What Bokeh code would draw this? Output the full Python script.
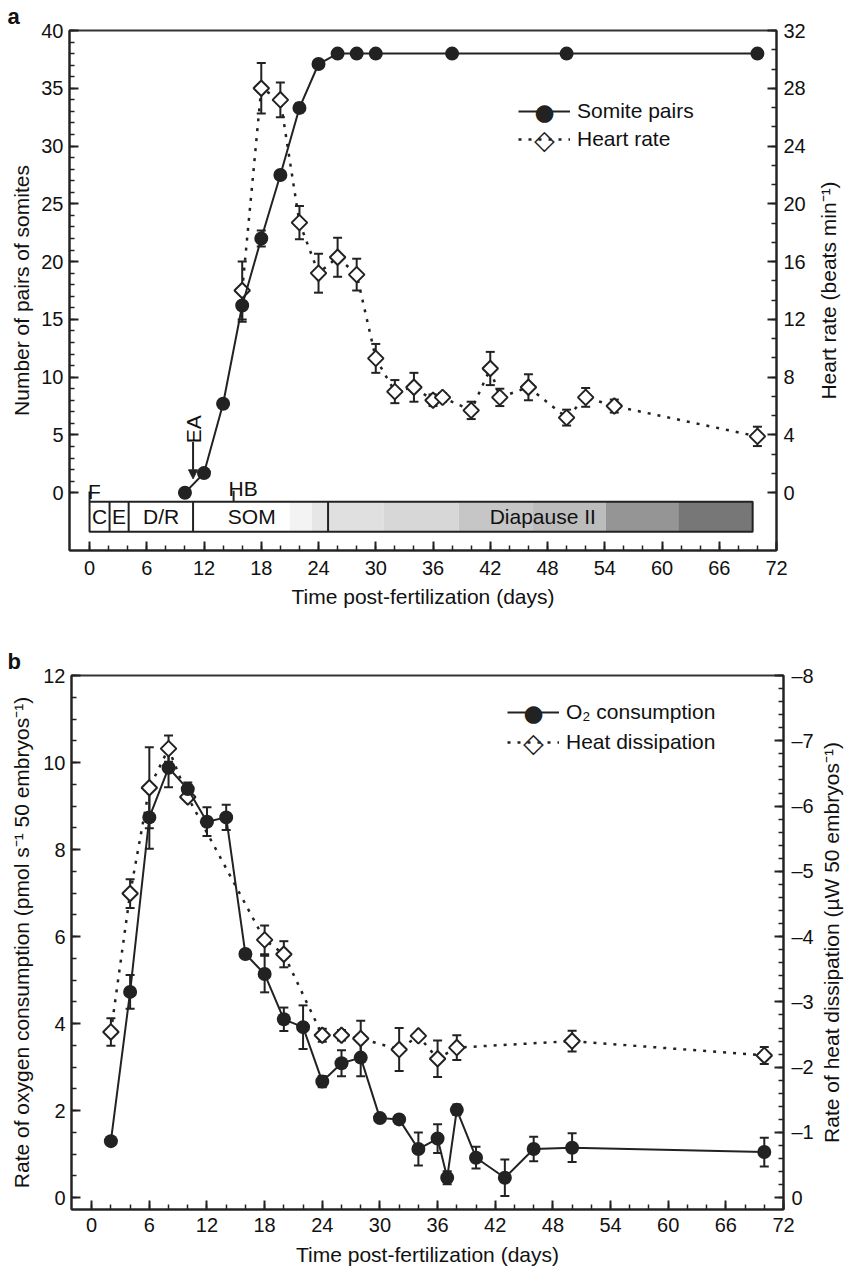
import numpy as np
from bokeh.plotting import figure
from bokeh.models import (Range1d, LinearAxis, FixedTicker, ColumnDataSource, Whisker, TeeHead,
                          Legend, LegendItem, Label, Arrow, NormalHead, CustomJSTickFormatter)
from bokeh.layouts import column, row
from bokeh.embed import file_html
from bokeh.resources import INLINE
from bokeh.core.properties import value

FONT = "Liberation Sans"
INK = "#222222"

# ---------------- Panel a data ----------------
somite_days = [10, 12, 14, 16, 18, 20, 22, 24, 26, 28, 30, 38, 50, 70]
somite_pairs = [0, 1.7, 7.7, 16.2, 22.0, 27.5, 33.3, 37.1, 38, 38, 38, 38, 38, 38]
somite_err = [0, 0, 0, 1.4, 0.7, 0, 0.4, 0, 0, 0, 0, 0, 0, 0]

hr_days = [16, 18, 20, 22, 24, 26, 28, 30, 32, 34, 36, 37, 40, 42, 43, 46, 50, 52, 55, 70]
hr_bpm = [14.0, 28.0, 27.2, 18.7, 15.2, 16.3, 15.1, 9.3, 7.0, 7.3, 6.4, 6.6, 5.7, 8.6, 6.6,
          7.3, 5.2, 6.6, 6.0, 3.9]
hr_err = [2.0, 1.75, 1.2, 1.15, 1.35, 1.35, 1.1, 1.0, 0.8, 1.0, 0.4, 0.3, 0.6, 1.15, 0.6,
          0.9, 0.55, 0.65, 0.45, 0.67]

# developmental stage bar
stage_dividers = [0, 2.1, 4.1, 10.85, 25.0, 69.5]
stage_names = ["C", "E", "D/R", "SOM", "Diapause II"]
stage_label_x = [1.05, 3.1, 7.5, 17.0, 47.5]
shade_start = [21.0, 23.3, 25.0, 30.8, 38.7, 46.4, 54.1, 61.7]
shade_end = [23.3, 25.0, 30.8, 38.7, 46.4, 54.1, 61.7, 69.5]
shade_color = ["#f3f3f3", "#e6e6e6", "#e0e0e0", "#d7d7d7", "#c6c6c6", "#bcbcbc", "#959595", "#777777"]
event_names = ["F", "HB"]
event_days = [0.0, 15.1]
ea_day = 10.85

# ---------------- Panel b data ----------------
o2_days = [2, 4, 6, 8, 10, 12, 14, 16, 18, 20, 22, 24, 26, 28, 30, 32, 34, 36, 37, 38, 40, 43, 46, 50, 70]
o2_rate = [1.3, 4.73, 8.74, 9.88, 9.39, 8.64, 8.74, 5.6, 5.14, 4.1, 3.92, 2.67, 3.09, 3.22,
           1.83, 1.8, 1.12, 1.36, 0.46, 2.02, 0.92, 0.46, 1.12, 1.15, 1.05]
o2_err = [0, 0.39, 0.72, 0.45, 0.15, 0.33, 0.29, 0, 0.42, 0.27, 0.5, 0.13, 0.3, 0.43,
          0, 0.1, 0.38, 0.33, 0.15, 0.12, 0.25, 0.42, 0.28, 0.33, 0.33]

heat_days = [2, 4, 6, 8, 10, 18, 20, 24, 26, 28, 32, 34, 36, 38, 50, 70]
heat_rate = [-2.54, -4.66, -6.28, -6.88, -6.14, -3.95, -3.73, -2.49, -2.49, -2.44, -2.27,
             -2.48, -2.13, -2.3, -2.4, -2.18]
heat_err = [0.21, 0.22, 0.62, 0.2, 0, 0.22, 0.2, 0.1, 0.08, 0.27, 0.33, 0, 0.28, 0.19, 0.16, 0.13]

XTICKS = list(range(0, 73, 6))
XMINOR = list(range(0, 73, 2))


def style_axis(ax, ticks, minor, title=None):
    ax.ticker = FixedTicker(ticks=ticks, minor_ticks=minor)
    ax.major_tick_in = 9
    ax.major_tick_out = 0
    ax.minor_tick_in = 5
    ax.minor_tick_out = 0
    ax.axis_line_width = 2
    ax.axis_line_color = INK
    ax.major_tick_line_width = 2
    ax.major_tick_line_color = INK
    ax.minor_tick_line_width = 1.5
    ax.minor_tick_line_color = INK
    ax.major_label_text_font = FONT
    ax.major_label_text_font_size = "20px"
    ax.major_label_text_color = "#111111"
    ax.major_label_standoff = 6
    ax.axis_label_text_font = FONT
    ax.axis_label_text_font_size = "21px"
    ax.axis_label_text_font_style = "normal"
    ax.axis_label_text_color = "#111111"
    ax.axis_label_standoff = 8
    if title is not None:
        ax.axis_label = title


def whiskers(p, xs, ys, errs, range_name="default"):
    xx, lo, hi = [], [], []
    for x, y, e in zip(xs, ys, errs):
        if e > 0:
            xx.append(x)
            lo.append(y - e)
            hi.append(y + e)
    src = ColumnDataSource(dict(x=xx, lower=lo, upper=hi))
    w = Whisker(base="x", lower="lower", upper="upper", source=src,
                line_width=2, line_color=INK,
                upper_head=TeeHead(size=9, line_width=2, line_color=INK),
                lower_head=TeeHead(size=9, line_width=2, line_color=INK),
                level="underlay")
    if range_name != "default":
        w.y_range_name = range_name
    p.add_layout(w)


def no_align(p):
    try:
        p.frame_align = False
    except Exception:
        pass


def base_fig(width, height, yr, borders, letter, letter_offset):
    p = figure(width=width, height=height, x_range=Range1d(-2.1, 72), y_range=yr,
               output_backend="svg", toolbar_location=None,
               min_border_left=borders[0], min_border_right=borders[1],
               min_border_top=borders[2], min_border_bottom=borders[3])
    no_align(p)
    p.xgrid.visible = False
    p.ygrid.visible = False
    p.outline_line_color = "#333333"
    p.outline_line_width = 2
    p.background_fill_color = "white"
    p.border_fill_color = "white"
    p.title.text = letter
    p.title.text_font = FONT
    p.title.text_font_style = "bold"
    p.title.text_font_size = "22px"
    p.title.text_color = "#111111"
    p.title.align = "left"
    p.title.offset = letter_offset
    try:
        p.title.standoff = 3
    except Exception:
        pass
    return p


def side_title(width, height, text, xc, yc):
    """Narrow strip holding a right-hand axis title that reads bottom-to-top."""
    t = figure(width=width, height=height, x_range=Range1d(0, width), y_range=Range1d(0, height),
               output_backend="svg", toolbar_location=None,
               x_axis_location=None, y_axis_location=None,
               min_border_left=0, min_border_right=0, min_border_top=0, min_border_bottom=0)
    no_align(t)
    t.xgrid.visible = False
    t.ygrid.visible = False
    t.outline_line_color = None
    t.background_fill_color = "white"
    t.border_fill_color = "white"
    t.text(x=[xc], y=[yc], text=[text], angle=np.pi / 2, text_font=value(FONT),
           text_font_size=value("21px"), text_align="center", text_baseline="middle",
           text_color="#111111")
    return t


def legend_marker(p, x, y, kind):
    common = dict(x=x, y=y, x_units="screen", y_units="screen", text_font="DejaVu Sans",
                  text_align="center", text_baseline="middle")
    if kind == "circle":
        p.add_layout(Label(text="\u25cf", text_font_size="23px", text_color=INK, **common))
    else:
        p.add_layout(Label(text="\u25c6", text_font_size="27px", text_color="white", **common))
        p.add_layout(Label(text="\u25c7", text_font_size="27px", text_color=INK,
                           text_font_style="bold", **common))


# ================= Panel a =================
WA, HA = 815, 628
pa = base_fig(WA, HA, Range1d(-5, 40), (69, WA - 776, 30, 78), "a", -62)
pa.extra_y_ranges = {"hr": Range1d(-4, 32)}
style_axis(pa.xaxis[0], XTICKS, XMINOR, "Time post-fertilization (days)")
pa.xaxis[0].major_label_standoff = 10
pa.xaxis[0].axis_label_standoff = 7
style_axis(pa.yaxis[0], list(range(0, 41, 5)), list(range(0, 41, 1)), "Number of pairs of somites")
pa.yaxis[0].axis_label_standoff = 5
ra = LinearAxis(y_range_name="hr")
style_axis(ra, list(range(0, 33, 4)), [i * 4.0 / 3.0 for i in range(0, 25)])
ra.major_label_standoff = 7
pa.add_layout(ra, "right")

BAR_TOP, BAR_BOT = -0.78, -3.38
pa.quad(left=shade_start, right=shade_end, top=BAR_TOP, bottom=BAR_BOT,
        fill_color=shade_color, line_color=None)
pa.quad(left=[stage_dividers[0]], right=[stage_dividers[-1]], top=BAR_TOP, bottom=BAR_BOT,
        fill_color=None, line_color=INK, line_width=2)
pa.segment(x0=stage_dividers[1:-1], y0=BAR_TOP, x1=stage_dividers[1:-1], y1=BAR_BOT,
           line_color=INK, line_width=2)
pa.text(x=stage_label_x, y=-2.08, text=stage_names, text_font=value(FONT),
        text_font_size=value("21px"), text_align="center", text_baseline="middle",
        text_color="#111111")
pa.segment(x0=event_days, y0=BAR_TOP, x1=event_days, y1=[0.1, 0.17], line_color=INK, line_width=2)
pa.text(x=[event_days[0] - 0.15, 16.1], y=[0.1, 0.35], text=event_names, text_font=value(FONT),
        text_font_size=value("21px"), text_align=["left", "center"], text_baseline="alphabetic",
        text_color="#111111")
pa.text(x=[ea_day], y=[5.5], text=["EA"], angle=np.pi / 2, text_font=value(FONT),
        text_font_size=value("21px"), text_align="center", text_baseline="middle",
        text_color="#111111")
pa.add_layout(Arrow(end=NormalHead(size=9, fill_color=INK, line_color=INK),
                    x_start=ea_day, y_start=4.4, x_end=ea_day, y_end=1.2,
                    line_color=INK, line_width=2))

whiskers(pa, somite_days, somite_pairs, somite_err)
whiskers(pa, hr_days, hr_bpm, hr_err, "hr")

l_hr = pa.line(hr_days, hr_bpm, y_range_name="hr", line_color=INK, line_width=2.5, line_dash="3 7")
s_hr = pa.scatter(hr_days, hr_bpm, y_range_name="hr", marker="square", angle=np.pi / 4, size=11,
                  fill_color="white", line_color=INK, line_width=2)
l_som = pa.line(somite_days, somite_pairs, line_color=INK, line_width=2)
s_som = pa.scatter(somite_days, somite_pairs, marker="circle", size=14, fill_color=INK, line_color=None)

leg_a = Legend(items=[LegendItem(label="Somite pairs", renderers=[l_som]),
                      LegendItem(label="Heart rate", renderers=[l_hr])],
               location=(449, 397), glyph_width=52, glyph_height=28, label_height=28,
               label_standoff=7, spacing=0, padding=0, margin=0,
               border_line_alpha=0, background_fill_alpha=0,
               label_text_font=FONT, label_text_font_size="21px", label_text_color="#111111")
pa.add_layout(leg_a)
legend_marker(pa, 475, 439, "circle")
legend_marker(pa, 475, 411, "diamond")

ta = side_title(850 - WA, HA, "Heart rate (beats min\u207b\u00b9)", 828 - WA, HA - 290)

# ================= Panel b =================
WB, HB_ = 818, 640
pb = base_fig(WB, HB_, Range1d(-0.27, 12), (71, WB - 783, 47, 59), "b", -64)
pb.extra_y_ranges = {"heat": Range1d(0.18, -8)}
style_axis(pb.xaxis[0], XTICKS, XMINOR, "Time post-fertilization (days)")
pb.xaxis[0].major_label_standoff = 8
pb.xaxis[0].axis_label_standoff = 8
style_axis(pb.yaxis[0], list(range(0, 13, 2)), [i * 0.5 for i in range(0, 25)],
           "Rate of oxygen consumption (pmol s\u207b\u00b9 50 embryos\u207b\u00b9)")
pb.yaxis[0].axis_label_standoff = 7
rb = LinearAxis(y_range_name="heat")
style_axis(rb, list(range(-8, 1, 1)), [-8 + i * 0.2 for i in range(0, 41)])
rb.major_label_standoff = 8
rb.formatter = CustomJSTickFormatter(code="return tick < 0 ? '\\u2013' + Math.abs(tick) : tick.toString();")
pb.add_layout(rb, "right")

whiskers(pb, o2_days, o2_rate, o2_err)
whiskers(pb, heat_days, heat_rate, heat_err, "heat")

l_heat = pb.line(heat_days, heat_rate, y_range_name="heat", line_color=INK, line_width=2.5, line_dash="3 7")
s_heat = pb.scatter(heat_days, heat_rate, y_range_name="heat", marker="square", angle=np.pi / 4, size=11,
                    fill_color="white", line_color=INK, line_width=2)
l_o2 = pb.line(o2_days, o2_rate, line_color=INK, line_width=2)
s_o2 = pb.scatter(o2_days, o2_rate, marker="circle", size=14, fill_color=INK, line_color=None)

leg_b = Legend(items=[LegendItem(label="O\u2082 consumption", renderers=[l_o2]),
                      LegendItem(label="Heat dissipation", renderers=[l_heat])],
               location=(436, 452), glyph_width=52, glyph_height=30, label_height=30,
               label_standoff=7, spacing=0, padding=0, margin=0,
               border_line_alpha=0, background_fill_alpha=0,
               label_text_font=FONT, label_text_font_size="21px", label_text_color="#111111")
pb.add_layout(leg_b)
legend_marker(pb, 462, 497, "circle")
legend_marker(pb, 462, 467, "diamond")

tb = side_title(850 - WB, HB_, "Rate of heat dissipation (\u00b5W 50 embryos\u207b\u00b9)", 831 - WB, HB_ - 314)

layout = column(row(pa, ta, spacing=0), row(pb, tb, spacing=0), spacing=0)
open("out.html", "w").write(file_html(layout, INLINE))
